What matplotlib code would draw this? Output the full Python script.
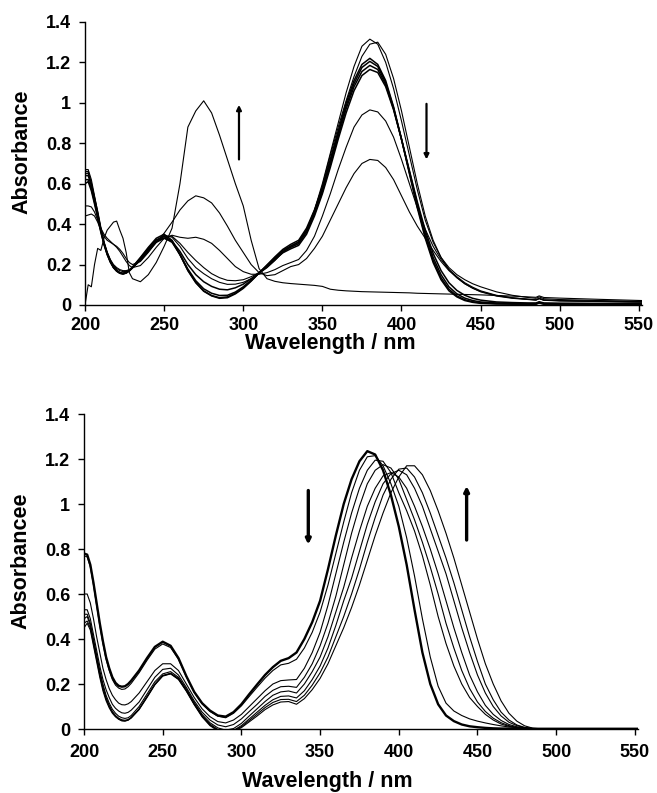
import matplotlib
matplotlib.use("Agg")
import matplotlib.pyplot as plt
from matplotlib.ticker import FuncFormatter

# ---------------------------------------------------------------------------
# Wavelength grids (nm)
# ---------------------------------------------------------------------------
wl_top = [200, 202, 204, 206, 208, 210, 212, 214, 216, 218, 220, 222, 224, 226, 228, 230,
          235, 240, 245, 250, 255, 260, 265, 270, 275, 280, 285, 290, 295, 300,
          305, 310, 315, 320, 325, 330, 335, 340, 345, 350, 355, 360, 365, 370,
          375, 380, 385, 390, 395, 400, 405, 410, 415, 420, 425, 430, 435, 440, 445, 450,
          460, 470, 480, 485, 487, 490, 500, 525, 552]

wl_bottom = [200, 202, 204, 206, 208, 210, 212, 214, 216, 218, 220, 222, 224, 226, 228, 230,
             235, 240, 245, 250, 255, 260, 265, 270, 275, 280, 285, 290, 295, 300,
             305, 310, 315, 320, 325, 330, 335, 340, 345, 350, 355, 360, 365, 370,
             375, 380, 385, 390, 395, 400, 405, 410, 415, 420, 425, 430, 435, 440, 445, 450,
             455, 460, 465, 470, 475, 480, 485, 490, 500, 525, 552]

# ---------------------------------------------------------------------------
# Upper panel: absorbance spectra
# ---------------------------------------------------------------------------
top_k1 = [0.66, 0.66, 0.60, 0.53, 0.46, 0.38, 0.31, 0.26, 0.22, 0.19, 0.172, 0.160, 0.155, 0.160, 0.172, 0.188,
          0.235, 0.285, 0.330, 0.350, 0.320, 0.250, 0.170, 0.110, 0.068, 0.045, 0.033, 0.036, 0.055, 0.082,
          0.118, 0.158, 0.198, 0.238, 0.275, 0.300, 0.320, 0.380, 0.470, 0.580, 0.720, 0.860, 1.000, 1.110,
          1.190, 1.220, 1.190, 1.110, 0.980, 0.820, 0.650, 0.480, 0.330, 0.210, 0.125, 0.070, 0.040, 0.022, 0.013, 0.008,
          0.005, 0.004, 0.004, 0.004, 0.010, 0.004, 0.004, 0.004, 0.004]
top_k2 = [0.64, 0.64, 0.59, 0.52, 0.45, 0.37, 0.305, 0.255, 0.215, 0.186, 0.168, 0.157, 0.153, 0.158, 0.170, 0.186,
          0.232, 0.280, 0.322, 0.340, 0.315, 0.248, 0.172, 0.112, 0.070, 0.047, 0.036, 0.040, 0.058, 0.085,
          0.120, 0.158, 0.196, 0.234, 0.270, 0.292, 0.312, 0.370, 0.460, 0.570, 0.710, 0.850, 0.985, 1.095,
          1.175, 1.205, 1.180, 1.100, 0.975, 0.820, 0.655, 0.490, 0.340, 0.220, 0.135, 0.078, 0.045, 0.026, 0.016, 0.011,
          0.007, 0.006, 0.005, 0.005, 0.011, 0.005, 0.005, 0.005, 0.005]
top_k3 = [0.62, 0.62, 0.575, 0.51, 0.44, 0.365, 0.30, 0.25, 0.212, 0.184, 0.167, 0.157, 0.154, 0.158, 0.168, 0.183,
          0.228, 0.275, 0.315, 0.332, 0.310, 0.250, 0.178, 0.120, 0.080, 0.058, 0.047, 0.048, 0.064, 0.090,
          0.123, 0.159, 0.194, 0.230, 0.264, 0.285, 0.303, 0.360, 0.450, 0.560, 0.695, 0.835, 0.970, 1.080,
          1.155, 1.185, 1.165, 1.090, 0.970, 0.820, 0.660, 0.500, 0.355, 0.235, 0.150, 0.090, 0.055, 0.034, 0.022, 0.015,
          0.010, 0.008, 0.007, 0.007, 0.013, 0.007, 0.006, 0.006, 0.006]
top_k4 = [0.60, 0.61, 0.565, 0.50, 0.43, 0.36, 0.30, 0.25, 0.213, 0.186, 0.170, 0.160, 0.158, 0.162, 0.172, 0.186,
          0.228, 0.272, 0.310, 0.330, 0.315, 0.265, 0.200, 0.150, 0.115, 0.092, 0.078, 0.075, 0.085, 0.103,
          0.130, 0.160, 0.192, 0.225, 0.258, 0.278, 0.295, 0.350, 0.440, 0.550, 0.680, 0.820, 0.950, 1.060,
          1.135, 1.165, 1.150, 1.080, 0.965, 0.820, 0.665, 0.510, 0.370, 0.255, 0.170, 0.110, 0.072, 0.048, 0.033, 0.024,
          0.015, 0.012, 0.010, 0.010, 0.016, 0.010, 0.009, 0.008, 0.008]
top_t1 = [0.67, 0.67, 0.62, 0.54, 0.46, 0.38, 0.31, 0.26, 0.225, 0.20, 0.185, 0.175, 0.170, 0.170, 0.175, 0.185,
          0.220, 0.265, 0.310, 0.340, 0.340, 0.305, 0.260, 0.220, 0.185, 0.155, 0.135, 0.122, 0.120, 0.125,
          0.140, 0.160, 0.185, 0.220, 0.260, 0.290, 0.310, 0.370, 0.470, 0.600, 0.750, 0.900, 1.050, 1.180,
          1.280, 1.315, 1.290, 1.200, 1.070, 0.910, 0.740, 0.570, 0.420, 0.310, 0.235, 0.185, 0.150, 0.125, 0.105, 0.090,
          0.065, 0.048, 0.037, 0.033, 0.040, 0.031, 0.027, 0.022, 0.018]
top_t2 = [0.65, 0.65, 0.60, 0.53, 0.45, 0.375, 0.305, 0.255, 0.22, 0.195, 0.18, 0.17, 0.165, 0.166, 0.172, 0.183,
          0.220, 0.268, 0.315, 0.345, 0.335, 0.290, 0.230, 0.185, 0.155, 0.130, 0.112, 0.102, 0.103, 0.112,
          0.130, 0.155, 0.185, 0.222, 0.262, 0.290, 0.310, 0.370, 0.465, 0.590, 0.740, 0.880, 1.010, 1.130,
          1.230, 1.290, 1.300, 1.240, 1.120, 0.960, 0.780, 0.600, 0.440, 0.320, 0.235, 0.175, 0.135, 0.105, 0.083, 0.067,
          0.046, 0.035, 0.028, 0.025, 0.032, 0.024, 0.021, 0.018, 0.015]
top_m1 = [0.49, 0.49, 0.485, 0.46, 0.42, 0.38, 0.35, 0.33, 0.315, 0.30, 0.285, 0.265, 0.24, 0.215, 0.195, 0.185,
          0.195, 0.235, 0.285, 0.330, 0.345, 0.335, 0.330, 0.335, 0.325, 0.305, 0.270, 0.230, 0.190, 0.165,
          0.152, 0.152, 0.160, 0.175, 0.195, 0.210, 0.225, 0.270, 0.340, 0.440, 0.550, 0.670, 0.780, 0.880,
          0.940, 0.965, 0.955, 0.910, 0.830, 0.720, 0.600, 0.480, 0.375, 0.290, 0.225, 0.175, 0.140, 0.110, 0.088, 0.070,
          0.048, 0.036, 0.029, 0.026, 0.033, 0.025, 0.022, 0.019, 0.016]
top_m2 = [0.44, 0.445, 0.45, 0.44, 0.41, 0.37, 0.34, 0.32, 0.31, 0.30, 0.29, 0.275, 0.255, 0.23, 0.21, 0.20,
          0.215, 0.260, 0.310, 0.355, 0.410, 0.470, 0.515, 0.540, 0.530, 0.505, 0.455, 0.390, 0.320, 0.260,
          0.200, 0.160, 0.145, 0.150, 0.170, 0.190, 0.200, 0.230, 0.280, 0.340, 0.420, 0.500, 0.580, 0.650,
          0.700, 0.720, 0.715, 0.680, 0.620, 0.540, 0.460, 0.390, 0.330, 0.270, 0.215, 0.170, 0.135, 0.105, 0.083, 0.065,
          0.044, 0.033, 0.027, 0.024, 0.031, 0.023, 0.020, 0.017, 0.014]
top_final = [0.00, 0.10, 0.09, 0.20, 0.28, 0.27, 0.33, 0.37, 0.39, 0.41, 0.415, 0.37, 0.33, 0.26, 0.16, 0.13,
             0.115, 0.150, 0.210, 0.290, 0.380, 0.600, 0.880, 0.960, 1.010, 0.950, 0.840, 0.720, 0.600, 0.490,
             0.320, 0.180, 0.130, 0.117, 0.110, 0.106, 0.103, 0.100, 0.097, 0.092, 0.078, 0.073, 0.070, 0.068,
             0.066, 0.065, 0.064, 0.063, 0.062, 0.061, 0.060, 0.058, 0.057, 0.056, 0.055, 0.054, 0.053, 0.052, 0.051, 0.050,
             0.047, 0.044, 0.040, 0.038, 0.045, 0.037, 0.034, 0.028, 0.022]

# ---------------------------------------------------------------------------
# Lower panel: absorbance spectra
# ---------------------------------------------------------------------------
bot_0 = [0.78, 0.775, 0.73, 0.65, 0.56, 0.47, 0.39, 0.32, 0.27, 0.23, 0.205, 0.192, 0.188, 0.19, 0.20, 0.215,
         0.26, 0.315, 0.365, 0.388, 0.37, 0.315, 0.235, 0.165, 0.115, 0.082, 0.06, 0.055, 0.075, 0.11,
         0.155, 0.198, 0.24, 0.275, 0.303, 0.315, 0.34, 0.40, 0.475, 0.57, 0.71, 0.86, 1.00, 1.11,
         1.19, 1.235, 1.22, 1.15, 1.04, 0.90, 0.73, 0.53, 0.34, 0.20, 0.11, 0.06, 0.035, 0.02, 0.012, 0.008,
         0.005, 0.003, 0.002, 0.002, 0.001, 0.001, 0.001, 0.001, 0.001, 0.001, 0.001]
bot_1 = [0.77, 0.765, 0.72, 0.64, 0.55, 0.46, 0.38, 0.31, 0.26, 0.22, 0.195, 0.182, 0.176, 0.178, 0.188, 0.203,
         0.25, 0.305, 0.355, 0.378, 0.362, 0.31, 0.232, 0.163, 0.112, 0.078, 0.057, 0.05, 0.07, 0.103,
         0.145, 0.186, 0.226, 0.26, 0.285, 0.292, 0.31, 0.36, 0.43, 0.52, 0.64, 0.78, 0.92, 1.05,
         1.15, 1.21, 1.215, 1.17, 1.09, 0.99, 0.85, 0.68, 0.49, 0.32, 0.19, 0.115, 0.08, 0.06, 0.045, 0.035,
         0.027, 0.02, 0.014, 0.009, 0.006, 0.003, 0.002, 0.001, 0.001, 0.001, 0.001]
bot_2 = [0.60, 0.60, 0.56, 0.49, 0.41, 0.34, 0.27, 0.22, 0.18, 0.15, 0.13, 0.115, 0.108, 0.107, 0.112, 0.122,
         0.16, 0.21, 0.26, 0.29, 0.29, 0.26, 0.20, 0.14, 0.09, 0.055, 0.033, 0.027, 0.04, 0.065,
         0.10, 0.135, 0.17, 0.20, 0.215, 0.218, 0.22, 0.27, 0.34, 0.43, 0.55, 0.69, 0.83, 0.96,
         1.07, 1.15, 1.195, 1.19, 1.14, 1.05, 0.97, 0.88, 0.77, 0.64, 0.50, 0.38, 0.28, 0.20, 0.14, 0.10,
         0.065, 0.04, 0.022, 0.012, 0.006, 0.003, 0.001, 0.001, 0.001, 0.001, 0.001]
bot_3 = [0.53, 0.53, 0.49, 0.42, 0.35, 0.28, 0.22, 0.175, 0.14, 0.11, 0.092, 0.08, 0.072, 0.07, 0.074, 0.084,
         0.12, 0.175, 0.23, 0.265, 0.27, 0.24, 0.185, 0.125, 0.075, 0.04, 0.018, 0.01, 0.02, 0.045,
         0.078, 0.11, 0.145, 0.172, 0.188, 0.19, 0.185, 0.23, 0.29, 0.37, 0.47, 0.59, 0.73, 0.87,
         0.99, 1.09, 1.15, 1.175, 1.16, 1.11, 1.02, 0.93, 0.83, 0.72, 0.60, 0.47, 0.36, 0.26, 0.18, 0.12,
         0.078, 0.048, 0.028, 0.015, 0.007, 0.003, 0.001, 0.001, 0.001, 0.001, 0.001]
bot_4 = [0.51, 0.51, 0.47, 0.40, 0.33, 0.26, 0.20, 0.15, 0.115, 0.088, 0.07, 0.057, 0.05, 0.047, 0.05, 0.06,
         0.10, 0.155, 0.21, 0.245, 0.255, 0.23, 0.178, 0.118, 0.065, 0.028, 0.005, -0.005, 0.002, 0.025,
         0.058, 0.09, 0.122, 0.15, 0.165, 0.169, 0.16, 0.20, 0.255, 0.32, 0.41, 0.52, 0.63, 0.76,
         0.88, 0.99, 1.07, 1.125, 1.14, 1.12, 1.07, 0.99, 0.90, 0.80, 0.69, 0.57, 0.45, 0.34, 0.24, 0.165,
         0.105, 0.065, 0.038, 0.02, 0.01, 0.005, 0.002, 0.001, 0.001, 0.001, 0.001]
bot_5 = [0.49, 0.50, 0.46, 0.39, 0.32, 0.25, 0.19, 0.14, 0.105, 0.078, 0.06, 0.048, 0.041, 0.039, 0.042, 0.052,
         0.09, 0.145, 0.20, 0.238, 0.248, 0.225, 0.173, 0.113, 0.06, 0.022, -0.002, -0.01, -0.006, 0.015,
         0.045, 0.075, 0.105, 0.13, 0.145, 0.147, 0.138, 0.17, 0.22, 0.28, 0.36, 0.46, 0.57, 0.67,
         0.79, 0.91, 1.01, 1.09, 1.135, 1.15, 1.13, 1.07, 0.99, 0.89, 0.79, 0.69, 0.57, 0.45, 0.34, 0.24,
         0.16, 0.10, 0.058, 0.03, 0.015, 0.006, 0.002, 0.001, 0.001, 0.001, 0.001]
bot_6 = [0.47, 0.48, 0.45, 0.38, 0.31, 0.24, 0.18, 0.133, 0.10, 0.074, 0.057, 0.045, 0.038, 0.036, 0.04, 0.05,
         0.088, 0.142, 0.198, 0.237, 0.246, 0.222, 0.17, 0.11, 0.057, 0.018, -0.005, -0.012, -0.008, 0.01,
         0.038, 0.066, 0.095, 0.118, 0.131, 0.132, 0.122, 0.15, 0.195, 0.25, 0.32, 0.41, 0.50, 0.60,
         0.71, 0.83, 0.94, 1.04, 1.11, 1.155, 1.16, 1.12, 1.05, 0.96, 0.86, 0.76, 0.65, 0.53, 0.41, 0.30,
         0.20, 0.13, 0.075, 0.04, 0.018, 0.007, 0.002, 0.001, 0.001, 0.001, 0.001]
bot_7 = [0.45, 0.47, 0.44, 0.37, 0.30, 0.23, 0.17, 0.126, 0.094, 0.07, 0.054, 0.043, 0.036, 0.035, 0.039, 0.049,
         0.086, 0.14, 0.196, 0.235, 0.245, 0.22, 0.168, 0.108, 0.054, 0.015, -0.008, -0.015, -0.01, 0.006,
         0.032, 0.058, 0.086, 0.107, 0.12, 0.122, 0.11, 0.135, 0.175, 0.225, 0.29, 0.37, 0.45, 0.54,
         0.64, 0.75, 0.86, 0.96, 1.05, 1.12, 1.17, 1.17, 1.13, 1.06, 0.97, 0.87, 0.76, 0.64, 0.52, 0.40,
         0.29, 0.20, 0.125, 0.07, 0.035, 0.014, 0.004, 0.001, 0.001, 0.001, 0.001]

x_ticks = [200, 250, 300, 350, 400, 450, 500, 550]
y_ticks = [0, 0.2, 0.4, 0.6, 0.8, 1.0, 1.2, 1.4]

# ---------------------------------------------------------------------------
plt.rcParams["font.family"] = ["Liberation Sans", "DejaVu Sans"]
plt.rcParams["font.weight"] = "bold"

fig = plt.figure(figsize=(6.57, 7.93), dpi=100)
ax_top = fig.add_axes([0.1294, 0.6154, 0.8478, 0.3569])
ax_bot = fig.add_axes([0.1279, 0.0807, 0.8432, 0.3972])


def style_axes(ax, ylabel, xlabel_xy, ylabel_xy, tick_pad):
    ax.set_xlim(200, 552)
    ax.set_ylim(0, 1.4)
    for side in ("top", "right"):
        ax.spines[side].set_visible(False)
    for side in ("left", "bottom"):
        ax.spines[side].set_linewidth(1.0)
    ax.set_xticks(x_ticks)
    ax.set_yticks(y_ticks)
    ax.yaxis.set_major_formatter(FuncFormatter(lambda v, p: f"{v:g}"))
    ax.tick_params(direction="out", length=4, width=1.0, labelsize=13)
    ax.tick_params(axis="x", pad=tick_pad)
    ax.tick_params(axis="y", pad=6)
    for lab in ax.get_xticklabels() + ax.get_yticklabels():
        lab.set_fontweight("bold")
    ax.set_xlabel("Wavelength / nm", fontsize=15.5, fontweight="bold")
    ax.xaxis.set_label_coords(*xlabel_xy)
    ax.set_ylabel(ylabel, fontsize=15.5, fontweight="bold")
    ax.yaxis.set_label_coords(*ylabel_xy)


thin = dict(color="black", lw=0.8, solid_joinstyle="round")

for spec in (top_final, top_m2, top_m1, top_t1, top_t2):
    ax_top.plot(wl_top, spec, **thin)
for spec in (top_k4, top_k3, top_k2, top_k1):
    ax_top.plot(wl_top, spec, color="black", lw=1.1)

for spec in (bot_7, bot_6, bot_5, bot_4, bot_3, bot_2, bot_1):
    ax_bot.plot(wl_bottom, spec, **thin)
ax_bot.plot(wl_bottom, bot_0, color="black", lw=1.7)

style_axes(ax_top, "Absorbance", (0.44, -0.10), (-0.095, 0.54), 5)
style_axes(ax_bot, "Absorbancee", (0.439, -0.133), (-0.094, 0.535), 7)


def arrow(ax, x, y0, y1, lw):
    ax.annotate("", xy=(x, y1), xytext=(x, y0),
                arrowprops=dict(arrowstyle="-|>", color="black", lw=lw,
                                mutation_scale=7, shrinkA=0, shrinkB=0))


arrow(ax_top, 297.3, 0.72, 0.99, 1.6)
arrow(ax_top, 415.8, 0.995, 0.72, 1.6)
arrow(ax_bot, 342.5, 1.06, 0.82, 2.4)
arrow(ax_bot, 443.1, 0.84, 1.08, 2.4)

fig.savefig("out.png", dpi=100)
